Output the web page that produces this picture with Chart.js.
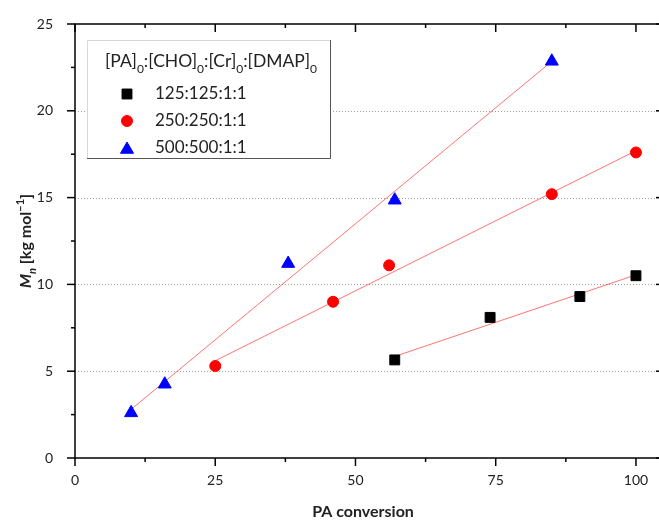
<!DOCTYPE html>
<html>
<head>
<meta charset="utf-8">
<title>Mn vs PA conversion</title>
<script src="https://cdn.jsdelivr.net/npm/chart.js@4.4.1/dist/chart.umd.min.js"></script>
<style>
  html, body { margin: 0; padding: 0; background: #fff; overflow: hidden; }
  #mnChart { display: block; }
</style>
</head>
<body>
<canvas id="mnChart" width="665" height="520"></canvas>
<script>
/* fonts / colours */
const FONT = "Lato, 'Open Sans', sans-serif";
const TEXT_COLOR = "#222";
const FIT_COLOR = "rgba(255,40,40,0.65)";

/* measured points: PA conversion (%) vs Mn (kg/mol) */
const conv125 = [57, 74, 90, 100];
const mn125   = [5.65, 8.1, 9.3, 10.5];
const conv250 = [25, 46, 56, 85, 100];
const mn250   = [5.3, 9.0, 11.1, 15.2, 17.6];
const conv500 = [10, 16, 38, 57, 85];
const mn500   = [2.6, 4.25, 11.2, 14.85, 22.85];

/* linear fit end points */
const fit125X = [57, 100];
const fit125Y = [5.85, 10.55];
const fit250X = [25, 100];
const fit250Y = [5.6, 17.7];
const fit500X = [10, 85];
const fit500Y = [2.8, 22.85];

/* axis ticks */
const majorX = [0, 25, 50, 75, 100];
const minorX = [12.5, 37.5, 62.5, 87.5];
const majorY = [0, 5, 10, 15, 20, 25];
const minorY = [2.5, 7.5, 12.5, 17.5, 22.5];
const gridY  = [5, 10, 15, 20];

/* legend */
const seriesLabels = ['125:125:1:1', '250:250:1:1', '500:500:1:1'];
const legendTitle = [['[PA]', ''], ['0', 'sub'], [':[CHO]', ''], ['0', 'sub'], [':[Cr]', ''], ['0', 'sub'], [':[DMAP]', ''], ['0', 'sub']];
const yTitle = [['M', 'it'], ['n', 'itsub'], [' [kg mol', ''], ['\u22121', 'sup'], [']', '']];
const xTitle = 'PA conversion';

const pts = (xs, ys) => xs.map((x, i) => ({ x, y: ys[i] }));

/* text with sub/superscripts */
function richText(ctx, parts, x, y, size, weight, align) {
  const fontFor = (m) => {
    const small = m.includes('sub') || m.includes('sup');
    const it = m.includes('it') ? 'italic ' : '';
    return `${it}${weight} ${small ? Math.round(size * 0.68) : size}px ${FONT}`;
  };
  const widths = parts.map(([t, m]) => { ctx.font = fontFor(m); return ctx.measureText(t).width; });
  const total = widths.reduce((a, b) => a + b, 0);
  let cx = align === 'center' ? x - total / 2 : x;
  ctx.textAlign = 'left';
  ctx.textBaseline = 'alphabetic';
  parts.forEach(([t, m], i) => {
    ctx.font = fontFor(m);
    const dy = m.includes('sub') ? size * 0.32 : m.includes('sup') ? -size * 0.45 : 0;
    ctx.fillText(t, cx, y + dy);
    cx += widths[i];
  });
}

/* frame, ticks, grid, titles, legend */
const decorPlugin = {
  id: 'decor',
  beforeDatasetsDraw(chart) {
    const { ctx, chartArea: a, scales: { y } } = chart;
    ctx.save();
    ctx.strokeStyle = '#a0a0a0';
    ctx.lineWidth = 1;
    ctx.setLineDash([1, 2]);
    gridY.forEach(v => {
      const py = Math.round(y.getPixelForValue(v)) + 0.5;
      ctx.beginPath(); ctx.moveTo(a.left, py); ctx.lineTo(a.right, py); ctx.stroke();
    });
    ctx.restore();
  },
  afterDatasetsDraw(chart) {
    const { ctx, chartArea: a, scales: { x, y } } = chart;
    ctx.save();
    ctx.strokeStyle = '#000';
    ctx.lineWidth = 1.5;
    ctx.strokeRect(a.left, a.top, a.right - a.left, a.bottom - a.top);
    const tick = (x1, y1, x2, y2) => { ctx.beginPath(); ctx.moveTo(x1, y1); ctx.lineTo(x2, y2); ctx.stroke(); };
    majorX.forEach(v => { const px = x.getPixelForValue(v); tick(px, a.bottom, px, a.bottom + 8); tick(px, a.top, px, a.top + 8); });
    minorX.forEach(v => { const px = x.getPixelForValue(v); tick(px, a.bottom, px, a.bottom + 4); tick(px, a.top, px, a.top + 4); });
    majorY.forEach(v => { const py = y.getPixelForValue(v); tick(a.left - 8, py, a.left, py); tick(a.right - 8, py, a.right, py); });
    minorY.forEach(v => { const py = y.getPixelForValue(v); tick(a.left - 4, py, a.left, py); tick(a.right - 4, py, a.right, py); });

    // x tick labels
    ctx.fillStyle = TEXT_COLOR;
    ctx.font = `14px ${FONT}`;
    ctx.textAlign = 'center';
    ctx.textBaseline = 'middle';
    majorX.forEach(v => ctx.fillText(String(v), x.getPixelForValue(v), a.bottom + 22));
    ctx.restore();
  },
  afterDraw(chart) {
    const { ctx } = chart;
    ctx.save();
    ctx.fillStyle = TEXT_COLOR;

    // axis titles
    ctx.font = `bold 16px ${FONT}`;
    ctx.textAlign = 'center';
    ctx.textBaseline = 'alphabetic';
    ctx.fillText(xTitle, 363, 517);
    ctx.save();
    ctx.translate(31, 241);
    ctx.rotate(-Math.PI / 2);
    richText(ctx, yTitle, 0, 0, 16, 'bold', 'center');
    ctx.restore();

    // legend box
    const bx = 87, by = 40, bw = 243, bh = 118;
    ctx.fillStyle = '#fff';
    ctx.fillRect(bx, by, bw, bh);
    ctx.lineWidth = 1;
    ctx.strokeStyle = '#d8d8d8';
    ctx.beginPath(); ctx.moveTo(bx + 0.5, by + bh); ctx.lineTo(bx + 0.5, by + 0.5); ctx.lineTo(bx + bw, by + 0.5); ctx.stroke();
    ctx.strokeStyle = '#555';
    ctx.beginPath(); ctx.moveTo(bx + bw + 0.5, by); ctx.lineTo(bx + bw + 0.5, by + bh + 0.5); ctx.lineTo(bx, by + bh + 0.5); ctx.stroke();

    ctx.fillStyle = TEXT_COLOR;
    richText(ctx, legendTitle, 105, 67, 17.5, 'normal', 'left');
    const rows = [94, 121, 148];
    chart.data.datasets.slice(0, 3).forEach((ds, i) => {
      ctx.fillStyle = ds.backgroundColor;
      ctx.strokeStyle = ds.borderColor;
      ctx.lineWidth = 1;
      Chart.helpers.drawPoint(ctx, { pointStyle: ds.pointStyle, radius: ds.pointRadius, rotation: 0, borderWidth: 1 }, 127, rows[i] + (ds.pointStyle === 'triangle' ? 1.5 : 0));
      ctx.fillStyle = TEXT_COLOR;
      ctx.font = `17px ${FONT}`;
      ctx.textAlign = 'left';
      ctx.textBaseline = 'middle';
      ctx.fillText(seriesLabels[i], 155, rows[i]);
    });
    ctx.restore();
  }
};

const marker = (label, data, style, color, radius) => ({
  label, data, type: 'scatter', pointStyle: style, pointRadius: radius, pointHoverRadius: radius,
  backgroundColor: color, borderColor: color, borderWidth: 1, showLine: false
});
const fitLine = (data) => ({
  type: 'line', data, borderColor: FIT_COLOR, borderWidth: 1, pointRadius: 0, fill: false, tension: 0
});

new Chart(document.getElementById('mnChart'), {
  type: 'scatter',
  data: {
    datasets: [
      marker(seriesLabels[0], pts(conv125, mn125), 'rect', '#000', 7),
      marker(seriesLabels[1], pts(conv250, mn250), 'circle', '#ff0000', 5.5),
      marker(seriesLabels[2], pts(conv500, mn500), 'triangle', '#0000ff', 7.5),
      fitLine(pts(fit125X, fit125Y)),
      fitLine(pts(fit250X, fit250Y)),
      fitLine(pts(fit500X, fit500Y))
    ]
  },
  options: {
    responsive: false,
    animation: false,
    layout: { autoPadding: false, padding: { top: 24, right: 1, left: 0, bottom: 0 } },
    plugins: { legend: { display: false }, tooltip: { enabled: false } },
    scales: {
      x: {
        type: 'linear', min: 0, max: 105,
        grid: { display: false },
        border: { display: false },
        ticks: { display: false },
        afterFit(scale) { scale.height = 62; }
      },
      y: {
        type: 'linear', min: 0, max: 25,
        grid: { display: false },
        border: { display: false },
        ticks: { stepSize: 5, padding: 14, color: TEXT_COLOR, font: { family: FONT, size: 14 } },
        afterFit(scale) { scale.width = 75; scale.paddingTop = 0; scale.paddingBottom = 0; }
      }
    }
  },
  plugins: [decorPlugin]
});
</script>
</body>
</html>
